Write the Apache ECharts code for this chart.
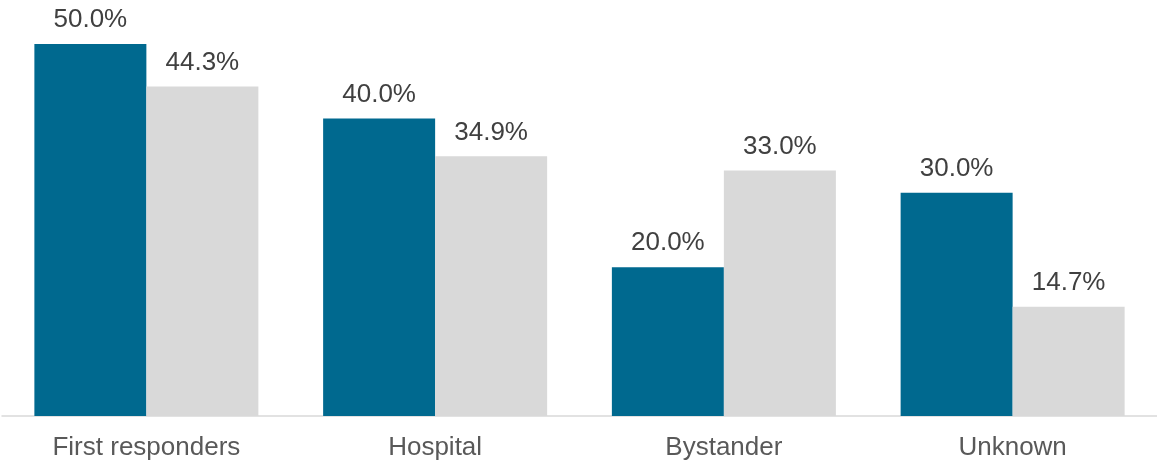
<!DOCTYPE html>
<html>
<head>
<meta charset="utf-8">
<script src="https://cdn.jsdelivr.net/npm/echarts@6/dist/echarts.min.js"></script>
<style>html,body{margin:0;padding:0;background:#fff}#c{width:1157px;height:461px}</style>
</head>
<body>
<div id="c"></div>
<script>
var categories = ['First responders', 'Hospital', 'Bystander', 'Unknown'];
var seriesA = [50.0, 40.0, 20.0, 30.0];
var seriesB = [44.3, 34.9, 33.0, 14.7];

var FONT = "'Liberation Sans', Arial, sans-serif";
var chart = echarts.init(document.getElementById('c'), null, {renderer: 'canvas'});
var labelStyle = {
  show: true, position: 'top', distance: 11,
  fontFamily: FONT, fontSize: 26, color: '#404040',
  formatter: function (p) { return p.value.toFixed(1) + '%'; }
};
chart.setOption({
  animation: false,
  grid: {left: 2, right: 0, top: 44, bottom: 44, containLabel: false},
  xAxis: {
    type: 'category', data: categories,
    axisLine: {show: true, lineStyle: {color: '#d9d9d9', width: 1.5}},
    axisTick: {show: false},
    axisLabel: {fontFamily: FONT, fontSize: 26, color: '#595959', margin: 19}
  },
  yAxis: {type: 'value', min: 0, max: 50, show: false, splitLine: {show: false}},
  series: [
    {type: 'bar', data: seriesA, barWidth: 112, barGap: '0%', itemStyle: {color: '#00698f'}, label: labelStyle},
    {type: 'bar', data: seriesB, barWidth: 112, barGap: '0%', itemStyle: {color: '#d9d9d9'}, label: labelStyle}
  ]
});
</script>
</body>
</html>
